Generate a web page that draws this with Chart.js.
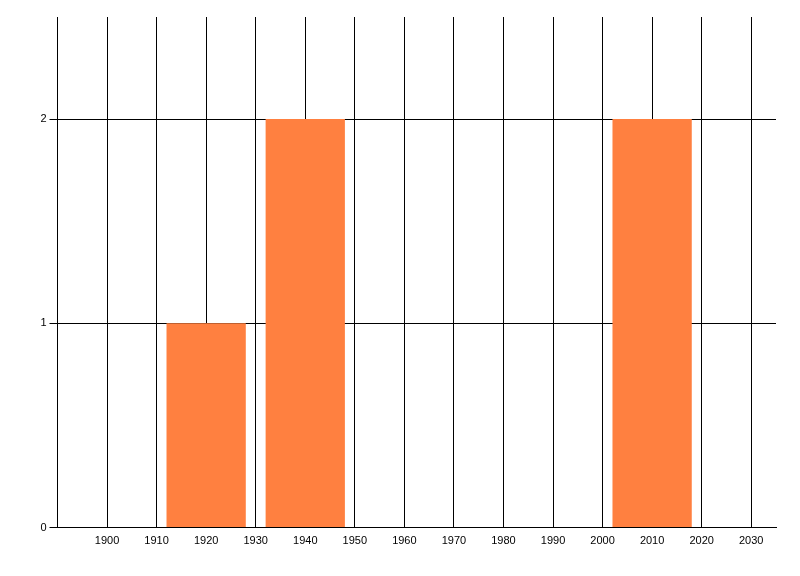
<!DOCTYPE html>
<html>
<head>
<meta charset="utf-8">
<script src="https://cdn.jsdelivr.net/npm/chart.js@4/dist/chart.umd.min.js"></script>
<style>
  html, body { margin: 0; padding: 0; background: #ffffff; }
  #wrap { width: 800px; height: 576px; }
</style>
</head>
<body>
<div id="wrap"><canvas id="histChart"></canvas></div>
<script>
// Data
const binCenters = [1920, 1940, 2010];
const binCounts = [1, 2, 2];
const xTickValues = [1900, 1910, 1920, 1930, 1940, 1950, 1960, 1970, 1980, 1990, 2000, 2010, 2020, 2030];
const yTickValues = [0, 1, 2];

const points = binCenters.map((x, i) => ({ x: x, y: binCounts[i] }));

new Chart(document.getElementById('histChart'), {
  type: 'bar',
  data: {
    datasets: [{
      data: points,
      backgroundColor: '#ff8040',
      borderWidth: 0,
      // tick spacing is 10 years, each bin bar spans 16 years
      categoryPercentage: 1.0,
      barPercentage: 1.6
    }]
  },
  options: {
    responsive: true,
    maintainAspectRatio: false,
    animation: false,
    layout: {
      padding: { top: 17, right: 24, left: 0, bottom: 0 }
    },
    plugins: {
      legend: { display: false },
      tooltip: { enabled: false }
    },
    scales: {
      x: {
        type: 'linear',
        min: 1890,
        max: 2035,
        offset: false,
        afterBuildTicks: function(scale) {
          scale.ticks = xTickValues.map(v => ({ value: v }));
        },
        afterFit: function(scale) {
          scale.height = 48.5;
        },
        grid: {
          offset: false,
          color: '#000000',
          lineWidth: 1,
          drawTicks: false
        },
        border: { color: '#000000', width: 1 },
        ticks: {
          color: '#000000',
          padding: 7,
          maxRotation: 0,
          autoSkip: false,
          callback: function(value) { return String(value); },
          font: { family: 'Liberation Sans', size: 11 }
        }
      },
      y: {
        type: 'linear',
        min: 0,
        max: 2.5,
        afterBuildTicks: function(scale) {
          scale.ticks = yTickValues.map(v => ({ value: v }));
        },
        afterFit: function(scale) {
          scale.width = 57.5;
        },
        grid: {
          color: '#000000',
          lineWidth: 1,
          drawTicks: true,
          tickLength: 8
        },
        border: { color: '#000000', width: 1 },
        ticks: {
          color: '#000000',
          padding: 3,
          font: { family: 'Liberation Sans', size: 11 }
        }
      }
    }
  }
});
</script>
</body>
</html>
